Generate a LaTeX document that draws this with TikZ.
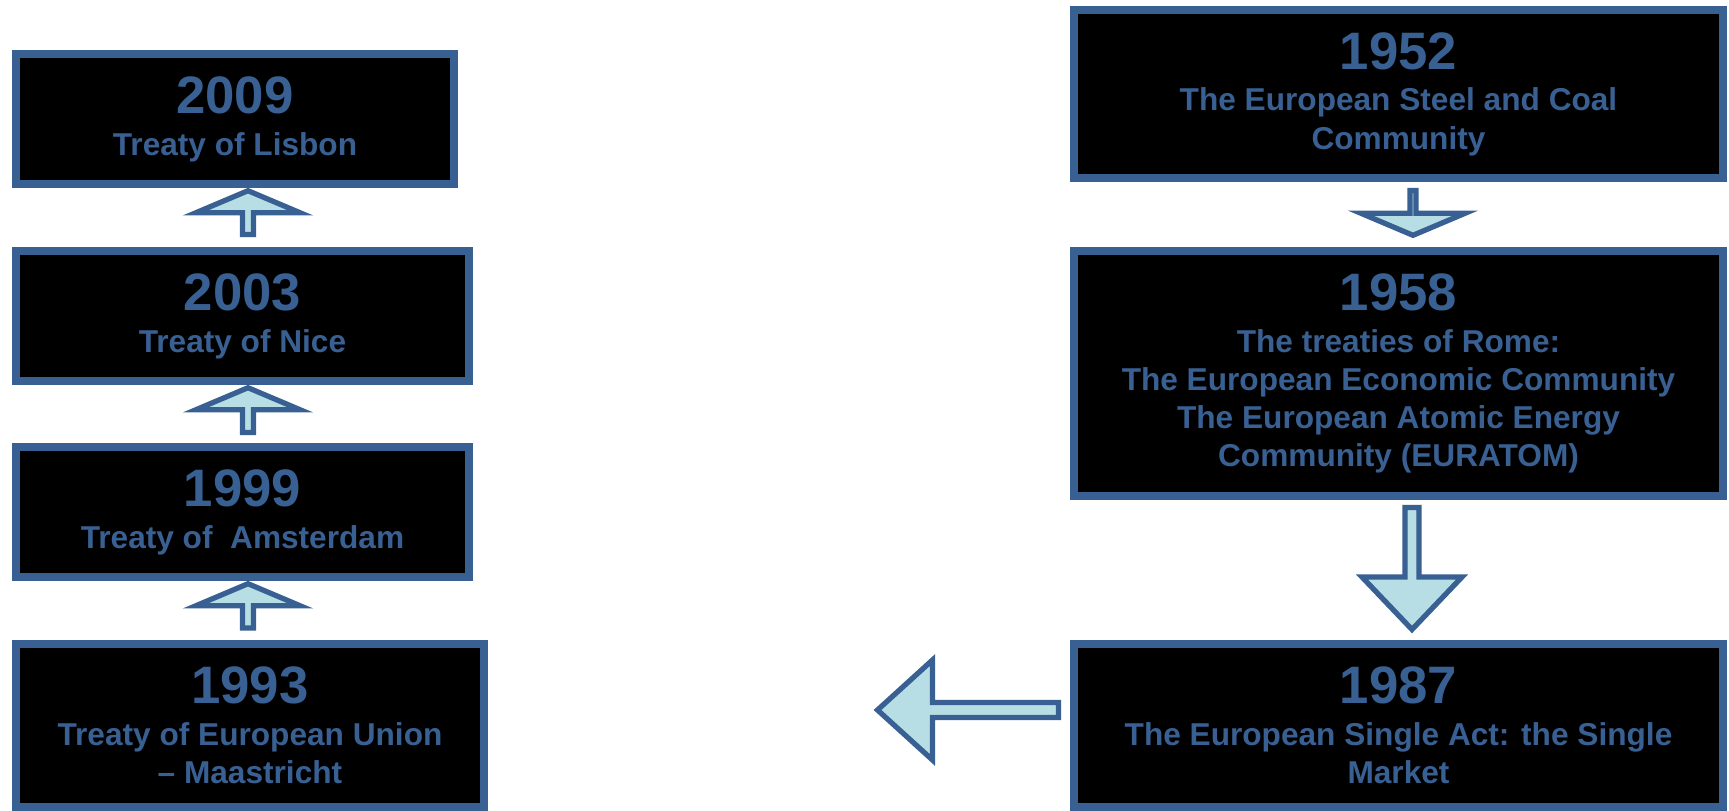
\documentclass[tikz,border=0pt]{standalone}
\usepackage{fontspec}
\setmainfont{Liberation Sans}
\usepackage{xcolor}
\usepackage{tikz}
\usetikzlibrary{calc}
\definecolor{eublue}{RGB}{57,96,146}
\definecolor{eucyan}{RGB}{183,222,228}

\tikzset{
  treatybox/.style={draw=eublue, fill=black, line width=0.15cm, text=eublue,
    font=\fontsize{18}{21.8}\selectfont\bfseries, align=center, inner sep=0pt},
  % block arrow: half shaft width, half head width, head length
  blockarrow/.style n args={3}{draw=eublue, fill=eucyan, line width=3pt,
    to path={
      ($(\tikztotarget)!#3!(\tikztostart)$) coordinate (hb)
      ($(\tikztostart)!#1!90:(\tikztotarget)$) -- ($(hb)!#1!-90:(\tikztostart)$)
      -- ($(hb)!#2!-90:(\tikztostart)$) -- (\tikztotarget)
      -- ($(hb)!#2!90:(\tikztostart)$) -- ($(hb)!#1!90:(\tikztostart)$)
      -- ($(\tikztostart)!#1!-90:(\tikztotarget)$) -- cycle}},
  smallarrow/.style={blockarrow={0.11cm}{1.04cm}{0.44cm}},
  thinarrow/.style={blockarrow={0.06cm}{1.04cm}{0.44cm}},
  bigarrow/.style={blockarrow={0.14cm}{1.0cm}{1.05cm}}
}
\newcommand{\yr}[1]{{\fontsize{30}{36}\selectfont #1}\\[2pt]}

\begin{document}
\begin{tikzpicture}[x=0.02cm, y=-0.02cm]
  \useasboundingbox (0,0) rectangle (1729,811);

  % Right column: the early communities
  \node[treatybox, minimum width=12.99cm, minimum height=3.37cm] (b1952) at (1398.5,94)
    {\yr{1952}The European Steel and Coal\\Community};
  \node[treatybox, minimum width=12.99cm, minimum height=4.91cm] (b1958) at (1398.5,373.5)
    {\yr{1958}The treaties of Rome:\\The European Economic Community\\The European Atomic Energy\\Community (EURATOM)};
  \node[treatybox, minimum width=12.99cm, minimum height=3.27cm] (b1987) at (1398.5,725.5)
    {\yr{1987}The European Single Act: the Single\\Market};

  % Left column: the later treaties
  \node[treatybox, minimum width=9.37cm, minimum height=3.27cm] (b1993) at (250,725.5)
    {\yr{1993}Treaty of European Union\\– Maastricht};
  \node[treatybox, minimum width=9.07cm, minimum height=2.61cm] (b1999) at (242.5,512)
    {\yr{1999}Treaty of\ \ Amsterdam};
  \node[treatybox, minimum width=9.07cm, minimum height=2.61cm] (b2003) at (242.5,316)
    {\yr{2003}Treaty of Nice};
  \node[treatybox, minimum width=8.77cm, minimum height=2.61cm] (b2009) at (235,119)
    {\yr{2009}Treaty of Lisbon};

  % Arrow ends
  \coordinate (d1s) at (1413,190.5);
  \coordinate (d1e) at (1413,235.3);
  \coordinate (d2s) at (1412,507.5);
  \coordinate (d2e) at (1412,629.5);
  \coordinate (l1s) at (1058.5,710);
  \coordinate (l1e) at (877.5,710);
  \coordinate (u1s) at (248,628);
  \coordinate (u1e) at (248,583.7);
  \coordinate (u2s) at (248,432.5);
  \coordinate (u2e) at (248,387.7);
  \coordinate (u3s) at (248,234.5);
  \coordinate (u3e) at (248,190.7);

  % Arrows
  \draw[thinarrow] (d1s) to (d1e);
  \draw[bigarrow] (d2s) to (d2e);
  \draw[blockarrow={0.15cm}{1.0cm}{1.1cm}] (l1s) to (l1e);
  \draw[smallarrow] (u1s) to (u1e);
  \draw[smallarrow] (u2s) to (u2e);
  \draw[smallarrow] (u3s) to (u3e);
\end{tikzpicture}
\end{document}
